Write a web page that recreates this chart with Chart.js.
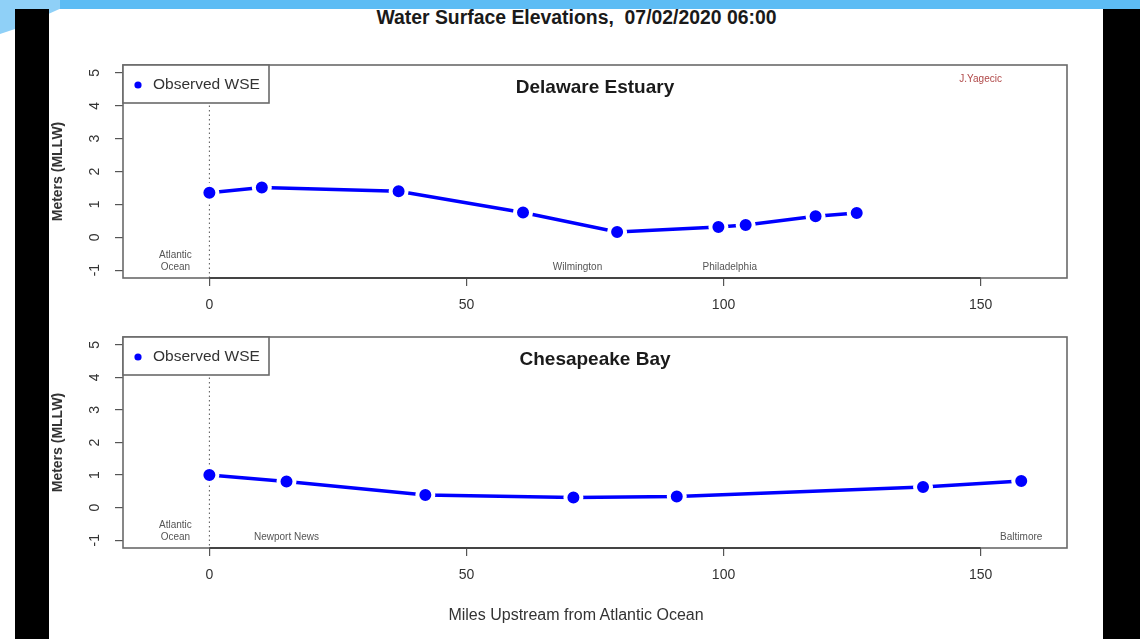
<!DOCTYPE html>
<html><head><meta charset="utf-8">
<script src="https://cdn.jsdelivr.net/npm/chart.js@4.4.1/dist/chart.umd.min.js"></script>
<style>
html,body{margin:0;padding:0;background:#fff;width:1140px;height:639px;overflow:hidden;position:relative;font-family:"Liberation Sans",Arial,sans-serif;}
#band{position:absolute;left:0;top:0;width:1140px;height:9px;background:#5dbcf4;}
#swoosh{position:absolute;left:0;top:0;width:60px;height:34px;background:#8fd0f7;clip-path:polygon(0 0,100% 0,100% 26%,25% 85%,0 100%);}
.bar{position:absolute;top:9px;height:630px;background:#000;}
#bl{left:15px;width:34px}
#br{left:1103px;width:37px}
#title{position:absolute;top:6px;left:0;width:1153px;text-align:center;font-weight:bold;font-size:19.4px;color:#1a1a1a;white-space:pre;}
#xtitle{position:absolute;top:606px;left:0;width:1152px;text-align:center;font-size:16px;color:#333;}
canvas{position:absolute;left:0;}
#c1{top:0}
#c2{top:325px}
</style></head>
<body>
<div id="band"></div><div id="swoosh"></div>
<div class="bar" id="bl"></div><div class="bar" id="br"></div>
<div id="title">Water Surface Elevations,  07/02/2020 06:00</div>
<canvas id="c1" width="1140" height="325"></canvas>
<canvas id="c2" width="1140" height="314"></canvas>
<div id="xtitle">Miles Upstream from Atlantic Ocean</div>
<script>
const xTicks = [0, 50, 100, 150];
const yTicks = [-1, 0, 1, 2, 3, 4, 5];
const seriesLabel = 'Observed WSE';

const delMiles = [0, 10.2, 36.8, 61.0, 79.3, 99.0, 104.3, 117.9, 125.9];
const delWSE   = [1.35, 1.51, 1.40, 0.75, 0.16, 0.31, 0.37, 0.64, 0.74];
const delPlaceNames  = ['Atlantic\nOcean', 'Wilmington', 'Philadelphia'];
const delPlaceMiles  = [-6.6, 71.6, 101.2];
const delPlaceLevels = [-0.73, -0.9, -0.9];

const cheMiles = [0, 15.0, 42.0, 70.8, 90.9, 138.8, 157.9];
const cheWSE   = [1.00, 0.80, 0.39, 0.31, 0.34, 0.63, 0.82];
const chePlaceNames  = ['Atlantic\nOcean', 'Newport News', 'Baltimore'];
const chePlaceMiles  = [-6.6, 15.0, 157.9];
const chePlaceLevels = [-0.73, -0.9, -0.9];

const signText = 'J.Yagecic';
const signMile = 150;
const signLevel = 4.8;

const F = '"Liberation Sans", Arial, sans-serif';

function decoPlugin(title, names, miles, levels, sign) {
  return {
    id: 'rdeco',
    beforeDatasetsDraw(chart) {
      const {ctx, chartArea: a, scales: {x}} = chart;
      const px = x.getPixelForValue(0);
      ctx.save();
      ctx.strokeStyle = '#555';
      ctx.lineWidth = 1;
      ctx.setLineDash([1.5, 3]);
      ctx.beginPath();
      ctx.moveTo(px, a.top);
      ctx.lineTo(px, a.bottom);
      ctx.stroke();
      ctx.restore();
    },
    afterDatasetsDraw(chart) {
      const {ctx, chartArea: a, scales: {x, y}} = chart;
      ctx.save();
      ctx.strokeStyle = '#6a6a6a';
      ctx.lineWidth = 1.6;
      ctx.strokeRect(a.left, a.top, a.right - a.left, a.bottom - a.top);
      ctx.strokeStyle = '#444';
      ctx.lineWidth = 1.8;
      ctx.beginPath();
      ctx.moveTo(x.getPixelForValue(xTicks[0]), a.bottom);
      ctx.lineTo(x.getPixelForValue(xTicks[xTicks.length - 1]), a.bottom);
      ctx.stroke();
      ctx.fillStyle = '#fff';
      ctx.fillRect(a.left, a.top, 146, 38);
      ctx.strokeStyle = '#6a6a6a';
      ctx.lineWidth = 1.6;
      ctx.strokeRect(a.left, a.top, 146, 38);
      ctx.fillStyle = '#0000ff';
      ctx.beginPath();
      ctx.arc(a.left + 15, a.top + 20, 3.6, 0, Math.PI * 2);
      ctx.fill();
      ctx.fillStyle = '#333';
      ctx.font = '15.5px ' + F;
      ctx.textAlign = 'left';
      ctx.textBaseline = 'middle';
      ctx.fillText(chart.data.datasets[0].label, a.left + 30, a.top + 20);
      ctx.fillStyle = '#1a1a1a';
      ctx.font = 'bold 19px ' + F;
      ctx.textAlign = 'center';
      ctx.fillText(title, 595, a.top + 23);
      ctx.fillStyle = '#555';
      ctx.font = '10px ' + F;
      names.forEach((n, i) => {
        const lines = n.split('\n');
        const cx = x.getPixelForValue(miles[i]);
        const cy = y.getPixelForValue(levels[i]);
        lines.forEach((t, j) => {
          ctx.fillText(t, cx, cy + (j - (lines.length - 1) / 2) * 12.5);
        });
      });
      if (sign) {
        ctx.fillStyle = '#b04848';
        ctx.fillText(signText, x.getPixelForValue(signMile), y.getPixelForValue(signLevel));
      }
      ctx.restore();
    }
  };
}

function build(id, miles, wse, title, names, pm, pl, sign, pad) {
  return new Chart(document.getElementById(id), {
    type: 'line',
    data: {
      datasets: [{
        label: seriesLabel,
        data: miles.map((m, i) => ({x: m, y: wse[i]})),
        borderColor: '#0000ff',
        backgroundColor: '#0000ff',
        borderWidth: 3.5,
        pointRadius: 8,
        pointBorderWidth: 4,
        pointBorderColor: '#ffffff',
        pointBackgroundColor: '#0000ff',
        tension: 0,
        clip: false
      }]
    },
    options: {
      responsive: false,
      animation: false,
      events: [],
      layout: {padding: pad},
      plugins: {legend: {display: false}, tooltip: {enabled: false}},
      scales: {
        x: {
          type: 'linear', min: -16.8, max: 166.8,
          afterBuildTicks: s => { s.ticks = xTicks.map(v => ({value: v})); },
          afterFit: s => { s.height = 40; s.paddingLeft = 0; s.paddingRight = 0; },
          grid: {drawOnChartArea: false, drawTicks: true, tickLength: 8, color: '#555', lineWidth: 1.2},
          border: {display: false},
          ticks: {padding: 11, font: {size: 14, family: F}, color: '#333', maxRotation: 0, autoSkip: false}
        },
        y: {
          type: 'linear', min: -1.24, max: 5.24,
          afterBuildTicks: s => { s.ticks = yTicks.map(v => ({value: v})); },
          afterFit: s => { s.width = 75; s.paddingTop = 0; s.paddingBottom = 0; },
          grid: {drawOnChartArea: false, drawTicks: true, tickLength: 8, color: '#555', lineWidth: 1.2},
          border: {display: false},
          ticks: {minRotation: 90, maxRotation: 90, crossAlign: 'center', padding: 14, font: {size: 14, family: F}, color: '#333', autoSkip: false},
          title: {display: true, text: 'Meters (MLLW)', font: {size: 14, family: F, weight: 'bold'}, color: '#333', padding: {top: 2, bottom: 0}}
        }
      }
    },
    plugins: [decoPlugin(title, names, pm, pl, sign)]
  });
}

build('c1', delMiles, delWSE, 'Delaware Estuary', delPlaceNames, delPlaceMiles, delPlaceLevels, true,
      {left: 48, right: 73, top: 65, bottom: 7});
build('c2', cheMiles, cheWSE, 'Chesapeake Bay', chePlaceNames, chePlaceMiles, chePlaceLevels, false,
      {left: 48, right: 73, top: 10, bottom: 51});
</script>
</body></html>
